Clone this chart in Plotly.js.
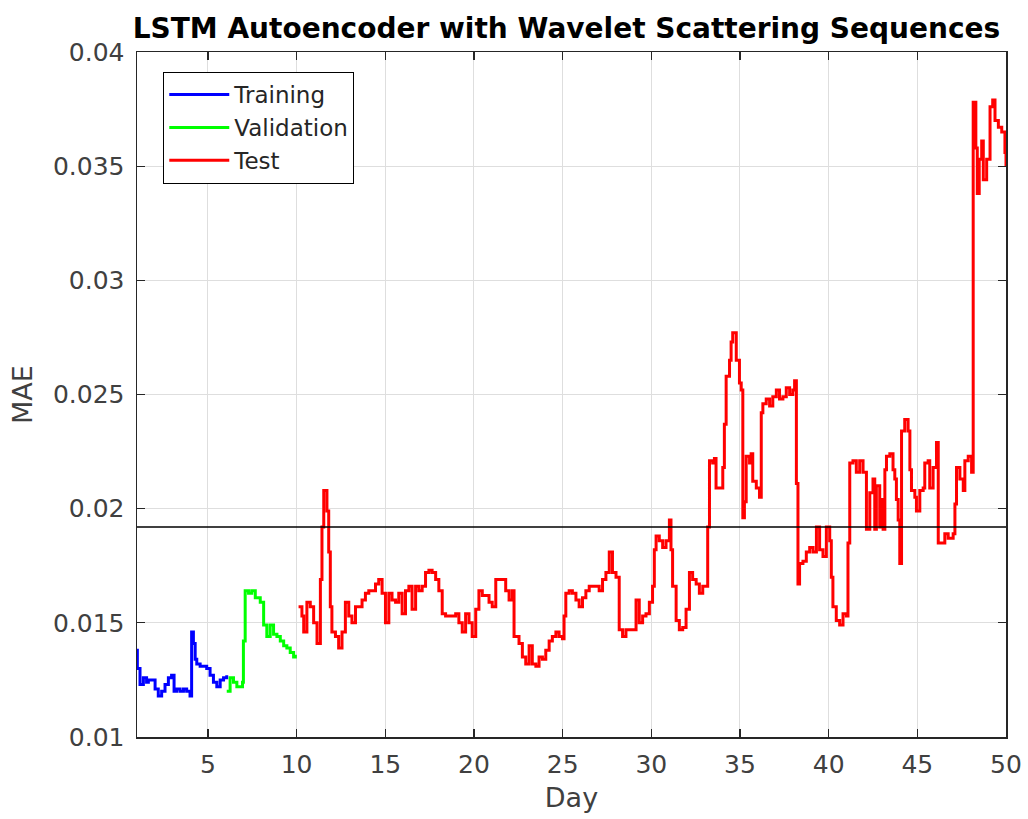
<!DOCTYPE html>
<html>
<head>
<meta charset="utf-8">
<script src="https://cdn.plot.ly/plotly-3.0.1.min.js"></script>
<style>html,body{margin:0;padding:0;background:#fff;}#chart{width:1028px;height:819px;}</style>
</head>
<body>
<div id="chart"></div>
<script>
const trainDay = [1.0,1.02,1.17,1.36,1.54,1.64,1.82,2.02,2.20,2.39,2.58,2.77,2.95,3.09,3.24,3.43,3.62,3.80,3.99,4.08,4.18,4.28,4.37,4.56,4.75,4.93,5.12,5.31,5.50,5.69,5.88,6.06];
const trainMAE = [0.0138,0.0130,0.0123,0.0126,0.0124,0.0125,0.0125,0.0121,0.0118,0.0120,0.0123,0.0126,0.0127,0.0120,0.0121,0.0120,0.0121,0.0120,0.0118,0.0146,0.0141,0.0134,0.0132,0.0131,0.0131,0.0130,0.0127,0.0124,0.0122,0.0125,0.0126,0.0127];

const valDay = [6.06,6.25,6.44,6.63,6.82,6.95,7.00,7.10,7.29,7.47,7.67,7.95,8.14,8.32,8.51,8.70,8.89,9.08,9.27,9.45,9.64,9.83,9.93];
const valMAE = [0.0120,0.0126,0.0124,0.0122,0.0122,0.0124,0.0142,0.0164,0.0163,0.0164,0.0161,0.0159,0.0149,0.0144,0.0149,0.0145,0.0144,0.0142,0.0140,0.0139,0.0137,0.0135,0.0136];

const testDay = [10.11,10.30,10.40,10.58,10.77,10.96,11.15,11.34,11.43,11.53,11.71,11.81,11.90,11.99,12.19,12.37,12.56,12.75,12.94,13.12,13.32,13.50,13.69,13.88,14.07,14.25,14.45,14.63,14.82,15.01,15.20,15.38,15.58,15.76,15.95,16.14,16.33,16.51,16.71,16.89,17.08,17.27,17.46,17.64,17.84,18.02,18.21,18.40,18.59,18.77,18.97,19.15,19.34,19.53,19.72,19.90,20.10,20.28,20.47,20.66,20.85,21.03,21.23,21.41,21.60,21.79,21.98,22.16,22.26,22.54,22.73,22.92,23.11,23.29,23.49,23.67,23.86,24.05,24.24,24.42,24.62,24.80,24.99,25.08,25.18,25.37,25.55,25.75,25.93,26.12,26.31,26.50,26.68,26.88,27.06,27.25,27.44,27.63,27.81,28.01,28.19,28.38,28.57,28.94,29.14,29.32,29.51,29.70,29.89,30.07,30.17,30.27,30.45,30.64,30.83,31.02,31.11,31.20,31.40,31.58,31.77,31.96,32.15,32.33,32.53,32.71,32.90,33.09,33.18,33.28,33.46,33.56,33.65,33.84,34.03,34.12,34.22,34.41,34.50,34.59,34.79,34.97,35.07,35.16,35.25,35.35,35.54,35.63,35.72,35.92,36.10,36.20,36.29,36.48,36.67,36.85,37.05,37.23,37.42,37.61,37.80,37.98,38.08,38.18,38.27,38.36,38.55,38.74,38.93,39.12,39.31,39.49,39.68,39.87,40.06,40.15,40.24,40.43,40.62,40.81,41.00,41.09,41.19,41.37,41.56,41.75,41.94,42.13,42.32,42.50,42.60,42.69,42.88,42.98,43.07,43.17,43.26,43.45,43.63,43.73,43.82,43.92,44.01,44.11,44.29,44.48,44.58,44.67,44.86,44.95,45.14,45.33,45.42,45.61,45.70,45.89,46.08,46.18,46.37,46.55,46.74,47.02,47.12,47.21,47.40,47.59,47.68,47.87,48.06,48.15,48.30,48.38,48.49,48.63,48.72,48.91,49.10,49.25,49.38,49.57,49.76,49.94,50.0];
const testMAE = [0.0157,0.0153,0.0146,0.0159,0.0157,0.0150,0.0141,0.0169,0.0192,0.0208,0.0199,0.0181,0.0157,0.0146,0.0144,0.0139,0.0146,0.0159,0.0153,0.0150,0.0157,0.0157,0.0160,0.0163,0.0164,0.0164,0.0167,0.0169,0.0163,0.0150,0.0163,0.0160,0.0159,0.0163,0.0154,0.0164,0.0166,0.0156,0.0166,0.0164,0.0166,0.0172,0.0173,0.0172,0.0169,0.0164,0.0154,0.0153,0.0153,0.0153,0.0154,0.0150,0.0146,0.0154,0.0150,0.0144,0.0156,0.0164,0.0162,0.0162,0.0159,0.0157,0.0169,0.0169,0.0169,0.0164,0.0160,0.0164,0.0144,0.0141,0.0135,0.0132,0.0140,0.0132,0.0131,0.0135,0.0134,0.0138,0.0142,0.0144,0.0146,0.0144,0.0143,0.0153,0.0163,0.0164,0.0163,0.0160,0.0157,0.0161,0.0164,0.0166,0.0166,0.0166,0.0164,0.0169,0.0172,0.0181,0.0172,0.0170,0.0147,0.0144,0.0147,0.0147,0.0160,0.0150,0.0153,0.0154,0.0159,0.0166,0.0182,0.0188,0.0186,0.0183,0.0186,0.0195,0.0182,0.0166,0.0151,0.0147,0.0148,0.0156,0.0172,0.0169,0.0167,0.0163,0.0166,0.0166,0.0192,0.0221,0.0220,0.0222,0.0209,0.0209,0.0218,0.0237,0.0258,0.0265,0.0273,0.0277,0.0265,0.0255,0.0252,0.0196,0.0203,0.0223,0.0220,0.0224,0.0212,0.0209,0.0205,0.0242,0.0246,0.0248,0.0245,0.0249,0.0252,0.0248,0.0249,0.0253,0.0250,0.0252,0.0256,0.0211,0.0167,0.0176,0.0177,0.0181,0.0183,0.0181,0.0192,0.0182,0.0179,0.0192,0.0186,0.0170,0.0157,0.0151,0.0149,0.0154,0.0153,0.0185,0.0220,0.0221,0.0216,0.0221,0.0216,0.0191,0.0207,0.0213,0.0191,0.0210,0.0192,0.0204,0.0191,0.0217,0.0223,0.0224,0.0217,0.0213,0.0204,0.0195,0.0176,0.0234,0.0239,0.0234,0.0217,0.0208,0.0205,0.0199,0.0208,0.0209,0.0220,0.0221,0.0209,0.0218,0.0229,0.0185,0.0185,0.0189,0.0187,0.0189,0.0202,0.0218,0.0213,0.0208,0.0221,0.0223,0.0216,0.0378,0.0358,0.0338,0.0353,0.0361,0.0344,0.0353,0.0376,0.0379,0.0370,0.0367,0.0365,0.0356,0.0350];

const threshold = 0.0192;
const xTicks = [5,10,15,20,25,30,35,40,45,50];
const yTicks = [0.01,0.015,0.02,0.025,0.03,0.035,0.04];
const yTickText = ['0.01','0.015','0.02','0.025','0.03','0.035','0.04'];

const font = 'DejaVu Sans, sans-serif';
const axisCommon = {
  showline: true, mirror: 'ticks', linecolor: '#262626', linewidth: 1.5,
  ticks: 'inside', ticklen: 8, tickwidth: 1.2, tickcolor: '#262626',
  showgrid: true, gridcolor: '#dedede', gridwidth: 1,
  zeroline: false, tickfont: {family: font, size: 25, color: '#404040'}
};

const traces = [
  {x: trainDay, y: trainMAE, type: 'scatter', mode: 'lines', name: 'Training', line: {color: '#0000ff', width: 3, shape: 'hv'}},
  {x: valDay, y: valMAE, type: 'scatter', mode: 'lines', name: 'Validation', line: {color: '#00ff00', width: 3, shape: 'hv'}},
  {x: testDay, y: testMAE, type: 'scatter', mode: 'lines', name: 'Test', line: {color: '#ff0000', width: 3, shape: 'hv'}}
];

const layout = {
  width: 1028, height: 819,
  margin: {l: 137, r: 22, t: 52, b: 82},
  paper_bgcolor: '#ffffff', plot_bgcolor: '#ffffff',
  title: {text: '<b>LSTM Autoencoder with Wavelet Scattering Sequences</b>', font: {family: font, size: 28, color: '#000'}, x: 0.551, xref: 'container', xanchor: 'center', y: 0.966, yanchor: 'middle'},
  xaxis: Object.assign({}, axisCommon, {range: [1, 50], tickvals: xTicks, ticklabelstandoff: 4, title: {text: 'Day', font: {family: font, size: 27, color: '#404040'}, standoff: 10}}),
  yaxis: Object.assign({}, axisCommon, {range: [0.01, 0.04], tickvals: yTicks, ticktext: yTickText, ticklabelstandoff: 6, title: {text: 'MAE', font: {family: font, size: 27, color: '#404040'}, standoff: 12}}),
  legend: {x: 0.03, y: 0.971, xanchor: 'left', yanchor: 'top', bgcolor: '#ffffff', bordercolor: '#000', borderwidth: 1.2,
           font: {family: font, size: 23, color: '#262626'}, tracegroupgap: 0, itemwidth: 60},
  shapes: [{type: 'line', xref: 'paper', x0: 0, x1: 1, yref: 'y', y0: threshold, y1: threshold, line: {color: '#000', width: 1.5}}],
  showlegend: true
};

Plotly.newPlot('chart', traces, layout, {staticPlot: true, displayModeBar: false});
</script>
</body>
</html>
